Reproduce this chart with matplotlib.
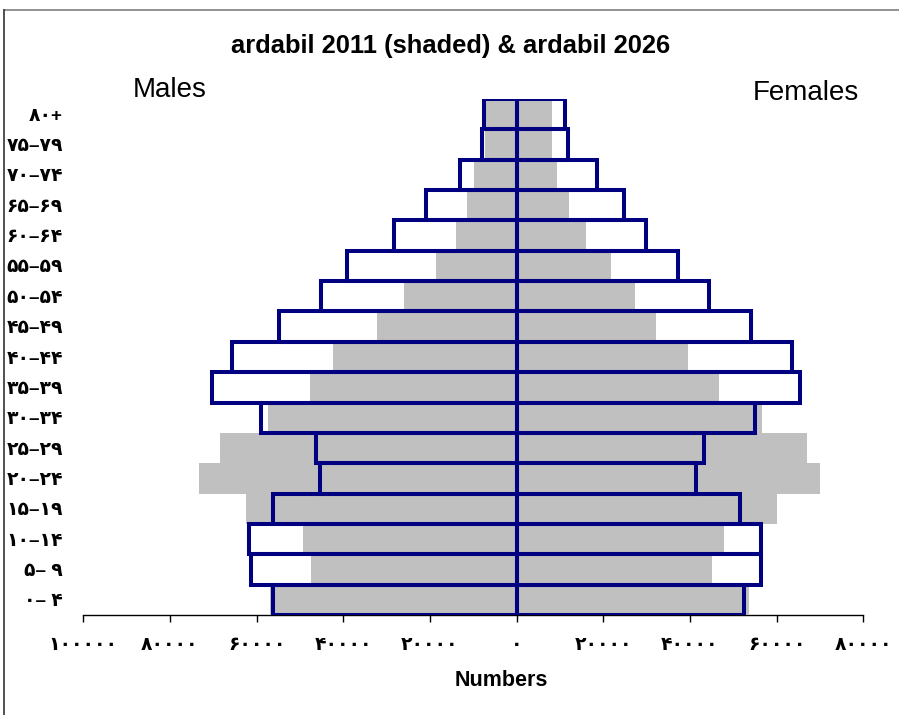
import matplotlib
matplotlib.use("Agg")
import matplotlib.pyplot as plt
from matplotlib.lines import Line2D
import numpy as np

plt.rcParams['font.family'] = ['Liberation Sans', 'DejaVu Sans']

# Age groups, bottom (0-4) to top (80+)
age_labels = ["۰– ۴", "۵– ۹", "۱۰–۱۴", "۱۵–۱۹", "۲۰–۲۴", "۲۵–۲۹", "۳۰–۳۴",
              "۳۵–۳۹", "۴۰–۴۴", "۴۵–۴۹", "۵۰–۵۴", "۵۵–۵۹", "۶۰–۶۴", "۶۵–۶۹",
              "۷۰–۷۴", "۷۵–۷۹", "۸۰+"]

male_2011 = [57000, 47500, 49300, 62400, 73300, 68500, 57300, 47600, 42400,
             32300, 26100, 18600, 14000, 11500, 9800, 7400, 7500]
female_2011 = [53600, 45000, 47800, 60100, 70000, 67000, 56600, 46700, 39500,
               32200, 27400, 21800, 16100, 12100, 9200, 8200, 8200]
male_2026 = [56300, 61300, 61700, 56300, 45400, 46400, 59100, 70200, 65800,
             54800, 45100, 39100, 28400, 21000, 13100, 7900, 7600]
female_2026 = [52500, 56500, 56300, 51500, 41500, 43300, 54900, 65400, 63600,
               54000, 44500, 37300, 29900, 24800, 18500, 11800, 11100]

x_ticks = [-100000, -80000, -60000, -40000, -20000, 0, 20000, 40000, 60000, 80000]
x_tick_labels = ["۱۰۰۰۰۰", "۸۰۰۰۰", "۶۰۰۰۰", "۴۰۰۰۰", "۲۰۰۰۰", "۰",
                 "۲۰۰۰۰", "۴۰۰۰۰", "۶۰۰۰۰", "۸۰۰۰۰"]

W, H = 899, 715
fig = plt.figure(figsize=(W / 100, H / 100), dpi=100)
fig.patch.set_facecolor('white')

left = 83.3 / W
right = 863.3 / W
bottom = (H - 615) / H
top = (H - 99) / H
ax = fig.add_axes([left, bottom, right - left, top - bottom])

y = np.arange(len(age_labels))
gray = '#c0c0c0'
navy = '#000080'

ax.barh(y, -np.array(male_2011), height=1.0, color=gray, edgecolor='none', zorder=1)
ax.barh(y, np.array(female_2011), height=1.0, color=gray, edgecolor='none', zorder=1)
ax.barh(y, -np.array(male_2026), height=1.0, facecolor='none', edgecolor=navy,
        linewidth=2.9, zorder=2)
ax.barh(y, np.array(female_2026), height=1.0, facecolor='none', edgecolor=navy,
        linewidth=2.9, zorder=2)

ax.set_xlim(-100000, 80000)
ax.set_ylim(-0.5, len(age_labels) - 0.5)

for s in ['top', 'right', 'left']:
    ax.spines[s].set_visible(False)
ax.spines['bottom'].set_color('black')
ax.spines['bottom'].set_linewidth(1.0)
ax.spines['bottom'].set_zorder(0)

ax.set_xticks(x_ticks)
ax.set_xticklabels(x_tick_labels, fontsize=13.5, fontweight='bold')
ax.tick_params(axis='x', direction='out', length=5, width=1, pad=11)

ax.set_yticks(y)
ax.set_yticklabels(age_labels, fontsize=13.5, fontweight='bold')
pad_px = 83.3 - 63
ax.tick_params(axis='y', length=0, pad=pad_px * 0.72)

fig.text(450.8 / W, 1 - 46 / H, "ardabil 2011 (shaded) & ardabil 2026",
         ha='center', va='center', fontsize=18.4, fontweight='bold')
fig.text(170 / W, 1 - 90 / H, "Males", ha='center', va='center', fontsize=20)
fig.text(806 / W, 1 - 93 / H, "Females", ha='center', va='center', fontsize=20)
fig.text(501 / W, 1 - 681 / H, "Numbers", ha='center', va='center',
         fontsize=15.5, fontweight='bold')

# chart frame (clipped by image edges)
fig.add_artist(Line2D([4 / W, 1.0], [1 - 10 / H, 1 - 10 / H], color='#7f7f7f',
                      linewidth=1.2, transform=fig.transFigure))
fig.add_artist(Line2D([4 / W, 4 / W], [0.0, 1 - 10 / H], color='#333333',
                      linewidth=1.2, transform=fig.transFigure))

fig.savefig("out.png", dpi=100, facecolor='white')
